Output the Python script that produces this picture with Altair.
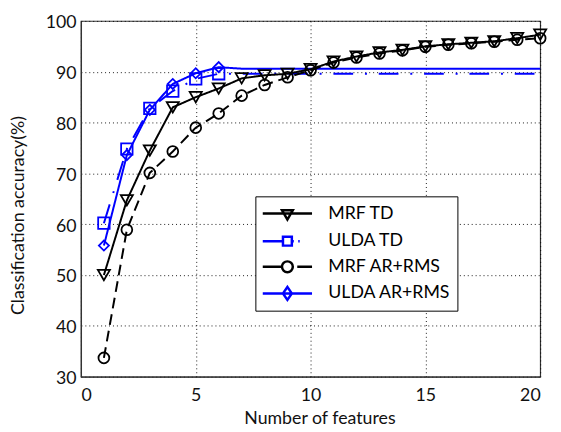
import altair as alt
import pandas as pd

FEATURES = list(range(1, 21))
MRF_TD = [50.0, 64.7, 74.5, 83.0, 85.0, 86.7, 88.7, 89.3, 89.6, 90.5,
          92.0, 93.0, 93.8, 94.3, 95.0, 95.4, 95.7, 96.0, 96.6, 97.3]
ULDA_TD = [60.2, 74.8, 82.8, 86.2, 88.6, 89.6, 89.6, 89.6, 89.6, 89.6,
           89.6, 89.6, 89.6, 89.6, 89.6, 89.6, 89.6, 89.6, 89.6, 89.6]
MRF_ARRMS = [33.7, 58.9, 70.1, 74.3, 79.0, 81.8, 85.3, 87.4, 88.9, 90.3,
             91.8, 92.8, 93.6, 94.2, 94.9, 95.3, 95.6, 95.9, 96.3, 96.6]
ULDA_ARRMS = [55.8, 73.6, 82.5, 87.6, 89.7, 90.9, 90.6, 90.6, 90.6, 90.6,
              90.6, 90.6, 90.6, 90.6, 90.6, 90.6, 90.6, 90.6, 90.6, 90.6]
SERIES = ["MRF TD", "ULDA TD", "MRF AR+RMS", "ULDA AR+RMS"]
ULDA_MARKED_UPTO = 6
X_TICKS = [0, 5, 10, 15, 20]
Y_TICKS = [30, 40, 50, 60, 70, 80, 90, 100]

# styles
COLORS = ["#000000", "#0000ff", "#000000", "#0000ff"]
DASHES = [[1, 0], [20, 12, 2, 12], [11, 6], [1, 0]]
SHAPES = ["triangle-down", "square", "circle", "diamond"]
SIZES = [150, 105, 140, 110]
# legend glyphs: x spans -2.5..2.5 (50 px at symbolSize 400)
LEGEND_PATHS = [
    "M-2.5,0L2.5,0M-0.55,-0.35L0.55,-0.35L0,0.6Z",
    "M-2.5,0L-0.45,0M-0.45,-0.45L0.45,-0.45L0.45,0.45L-0.45,0.45ZM0.45,0L0.65,0M1.1,0L1.25,0",
    "M-2.5,0L-0.55,0M0.55,0A0.55,0.55 0 1,1 -0.55,0A0.55,0.55 0 1,1 0.55,0M1,0L2.5,0",
    "M-2.5,0L2.5,0M0,-0.65L0.45,0L0,0.65L-0.45,0Z",
]
FONT = "Lato"

values = {"MRF TD": MRF_TD, "ULDA TD": ULDA_TD,
          "MRF AR+RMS": MRF_ARRMS, "ULDA AR+RMS": ULDA_ARRMS}
draw_order = ["ULDA TD", "ULDA AR+RMS", "MRF AR+RMS", "MRF TD"]
rows = []
for name in draw_order:
    for x, v in zip(FEATURES, values[name]):
        rows.append({
            "features": x, "acc": v, "series": name,
            "marked": (not name.startswith("ULDA")) or x <= ULDA_MARKED_UPTO,
        })
df = pd.DataFrame(rows)

x_enc = alt.X("features:Q", scale=alt.Scale(domain=[0, 20], nice=False),
              axis=alt.Axis(values=X_TICKS, title="Number of features",
                            titleX=242, titleY=47, titleBaseline="alphabetic",
                            labelPadding=10))
y_enc = alt.Y("acc:Q", scale=alt.Scale(domain=[30, 100], nice=False, zero=False),
              axis=alt.Axis(values=Y_TICKS, title="Classification accuracy(%)",
                            titleX=-58, titleY=197, titleBaseline="alphabetic",
                            labelPadding=5, labelOffset=2))

color_scale = alt.Scale(domain=SERIES, range=COLORS)

lines = alt.Chart(df).mark_line(strokeWidth=2).encode(
    x=x_enc, y=y_enc,
    color=alt.Color("series:N", scale=color_scale, legend=None),
    strokeDash=alt.StrokeDash("series:N", scale=alt.Scale(domain=SERIES, range=DASHES), legend=None),
    detail="series:N",
)

points = alt.Chart(df).transform_filter("datum.marked").mark_point(
    filled=False, strokeWidth=1.8, opacity=1
).encode(
    x="features:Q", y="acc:Q",
    color=alt.Color("series:N", scale=color_scale, legend=None),
    shape=alt.Shape("series:N", scale=alt.Scale(domain=SERIES, range=SHAPES), legend=None),
    size=alt.Size("series:N", scale=alt.Scale(domain=SERIES, range=SIZES), legend=None),
)

legend_props = dict(
    title=None, orient="none", legendX=177, legendY=178,
    strokeColor="#000000", padding=6, fillColor="#ffffff",
    symbolSize=400, symbolStrokeWidth=2.5, symbolOffset=15,
    labelFont=FONT, labelFontSize=18, labelColor="#000000",
    labelOffset=30, rowPadding=5,
)

legend_layer = alt.Chart(df).transform_filter("datum.features < 0").mark_point(
    filled=False, opacity=1
).encode(
    x="features:Q", y="acc:Q",
    color=alt.Color("series:N", scale=color_scale, legend=alt.Legend(**legend_props)),
    shape=alt.Shape("series:N", scale=alt.Scale(domain=SERIES, range=LEGEND_PATHS),
                    legend=alt.Legend(**legend_props)),
)

chart = alt.layer(lines, points, legend_layer).resolve_scale(
    shape="independent", color="independent", size="independent", strokeDash="independent"
).properties(
    width=466, height=361,
    autosize=alt.AutoSizeParams(type="none"),
    padding={"left": 74, "top": 10, "right": 13, "bottom": 53},
).configure_view(
    stroke="#333333", strokeWidth=1.2
).configure_axis(
    grid=True, gridColor="#000000", gridDash=[1, 3], gridWidth=1, gridOpacity=0.9,
    domainColor="#333333", domainWidth=1.2, ticks=False,
    labelFont=FONT, labelFontSize=18, labelColor="#111111",
    titleFont=FONT, titleFontSize=18, titleColor="#111111", titleFontWeight="normal",
    labelOverlap=False,
)

chart.save("out.html", embed_options={"renderer": "svg", "actions": False})
